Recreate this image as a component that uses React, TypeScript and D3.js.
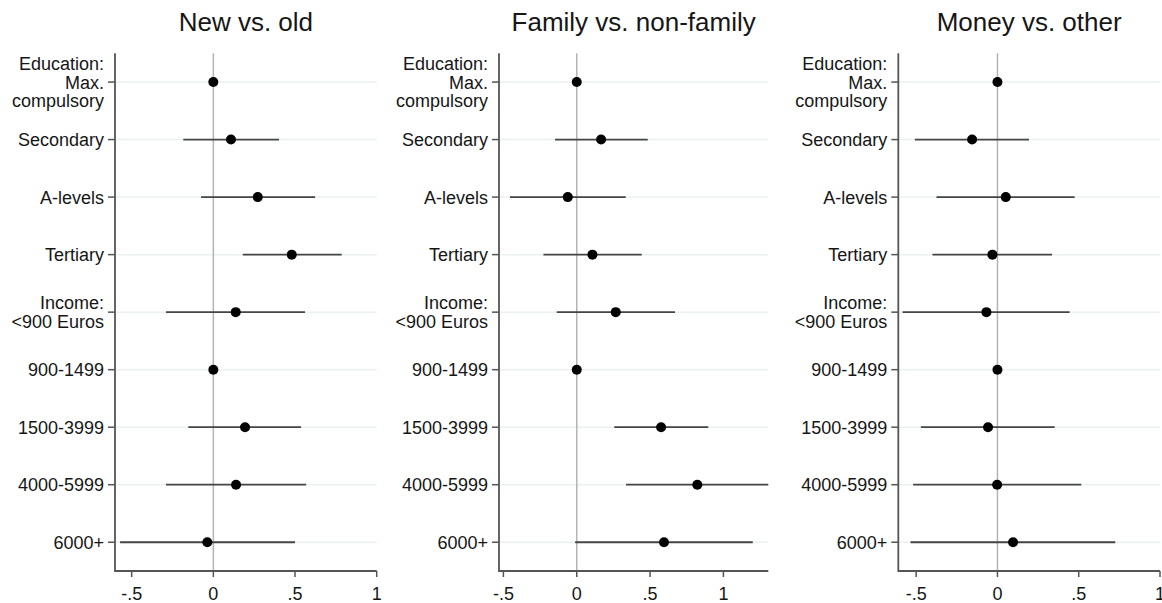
import React from "react";
import * as d3 from "d3";

const categories: string[][] = [
  ["Education:", "Max.", "compulsory"],
  ["Secondary"],
  ["A-levels"],
  ["Tertiary"],
  ["Income:", "<900 Euros"],
  ["900-1499"],
  ["1500-3999"],
  ["4000-5999"],
  ["6000+"],
];

const panelTitles = ["New vs. old", "Family vs. non-family", "Money vs. other"];

const newOldEst = [0, 0.108, 0.272, 0.48, 0.137, 0, 0.194, 0.139, -0.037];
const newOldLo = [0, -0.184, -0.075, 0.18, -0.29, 0, -0.153, -0.29, -0.571];
const newOldHi = [0, 0.402, 0.623, 0.786, 0.561, 0, 0.537, 0.568, 0.5];

const familyEst = [0, 0.166, -0.061, 0.107, 0.266, 0, 0.575, 0.822, 0.595];
const familyLo = [0, -0.148, -0.455, -0.227, -0.136, 0, 0.256, 0.336, -0.011];
const familyHi = [0, 0.484, 0.334, 0.443, 0.67, 0, 0.897, 1.4, 1.2];

const moneyEst = [0, -0.156, 0.051, -0.031, -0.068, 0, -0.058, -0.002, 0.096];
const moneyLo = [0, -0.508, -0.375, -0.4, -0.584, 0, -0.471, -0.519, -0.535];
const moneyHi = [0, 0.194, 0.475, 0.336, 0.444, 0, 0.352, 0.516, 0.725];

const xTicks = [-0.5, 0, 0.5, 1];
const xTickLabels = ["-.5", "0", ".5", "1"];

const panelDomains: [number, number][] = [
  [-0.602, 1.0],
  [-0.53, 1.306],
  [-0.61, 1.0],
];
const panelRanges: [number, number][] = [
  [115, 376.7],
  [499, 768.3],
  [898.3, 1160],
];

const panelData = [
  { est: newOldEst, lo: newOldLo, hi: newOldHi },
  { est: familyEst, lo: familyLo, hi: familyHi },
  { est: moneyEst, lo: moneyLo, hi: moneyHi },
];

const FONT = "'Liberation Sans', Arial, Helvetica, sans-serif";
const TEXT = "#161616";

export default function App() {
  const yScale = d3.scaleLinear().domain([0.5, 9.5]).range([53.3, 571]);
  const yTop = yScale(0.5);
  const yBot = yScale(9.5);

  return (
    <svg
      width={1162}
      height={603}
      style={{ position: "absolute", left: 0, top: 0, background: "#fff" }}
      fontFamily={FONT}
    >
      <defs>
        {panelRanges.map((r, i) => (
          <clipPath id={`clip${i}`} key={i}>
            <rect x={r[0]} y={yTop} width={r[1] - r[0]} height={yBot - yTop} />
          </clipPath>
        ))}
      </defs>
      {panelTitles.map((title, p) => {
        const x = d3.scaleLinear().domain(panelDomains[p]).range(panelRanges[p]);
        const [x0, x1] = panelRanges[p];
        const data = panelData[p];
        return (
          <g key={p}>
            <text
              x={(x0 + x1) / 2}
              y={31}
              textAnchor="middle"
              fontSize={26}
              fill={TEXT}
            >
              {title}
            </text>
            {categories.map((_, i) => (
              <line
                key={"g" + i}
                x1={x0}
                x2={x1}
                y1={yScale(i + 1)}
                y2={yScale(i + 1)}
                stroke="#eaf1f1"
                strokeWidth={1.5}
              />
            ))}
            <line
              x1={x(0)}
              x2={x(0)}
              y1={yTop}
              y2={yBot}
              stroke="#b4b4b4"
              strokeWidth={1.5}
            />
            <g clipPath={`url(#clip${p})`}>
              {data.est.map((e, i) =>
                data.lo[i] !== data.hi[i] ? (
                  <line
                    key={"ci" + i}
                    x1={x(data.lo[i])}
                    x2={x(data.hi[i])}
                    y1={yScale(i + 1)}
                    y2={yScale(i + 1)}
                    stroke="#454545"
                    strokeWidth={1.8}
                  />
                ) : null
              )}
            </g>
            {data.est.map((e, i) => (
              <circle key={"pt" + i} cx={x(e)} cy={yScale(i + 1)} r={5} fill="#000" />
            ))}
            <line x1={x0} x2={x0} y1={yTop} y2={yBot + 0.9} stroke="#555" strokeWidth={1.8} />
            {categories.map((lines, i) => {
              const yc = yScale(i + 1);
              const lh = 18.5;
              const start = yc - ((lines.length - 1) * lh) / 2;
              return (
                <g key={"yl" + i}>
                  <line x1={x0 - 7} x2={x0} y1={yc} y2={yc} stroke="#555" strokeWidth={1.5} />
                  <text textAnchor="end" fontSize={18} fill={TEXT}>
                    {lines.map((l, j) => (
                      <tspan key={j} x={x0 - 11} y={start + j * lh} dy="0.36em">
                        {l}
                      </tspan>
                    ))}
                  </text>
                </g>
              );
            })}
            <line x1={x0} x2={x1} y1={yBot} y2={yBot} stroke="#555" strokeWidth={1.8} />
            {xTicks.map((t, k) => (
              <g key={"xt" + k}>
                <line x1={x(t)} x2={x(t)} y1={yBot} y2={yBot + 6} stroke="#555" strokeWidth={1.5} />
                <text x={x(t)} y={600} textAnchor="middle" fontSize={18} fill={TEXT}>
                  {xTickLabels[k]}
                </text>
              </g>
            ))}
          </g>
        );
      })}
    </svg>
  );
}
